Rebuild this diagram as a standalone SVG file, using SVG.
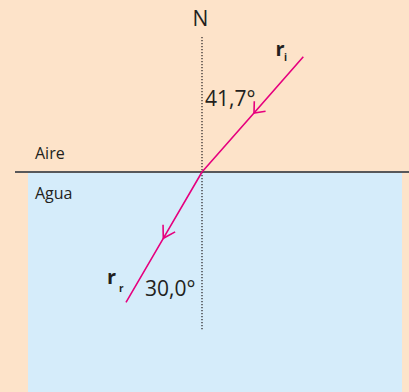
<svg xmlns="http://www.w3.org/2000/svg" width="409" height="392" viewBox="0 0 409 392">
<defs>
<style>
.t{font-family:"Open Sans","Liberation Sans",sans-serif;fill:#231F20}
.big{font-size:21px}
.small{font-size:16px}
.lbl{font-size:20px;font-weight:bold}
.sub{font-size:10px;font-weight:bold}
.ray{fill:none;stroke:#E6007E;stroke-width:1.6}
</style>
<marker id="chev1" markerUnits="userSpaceOnUse" markerWidth="30" markerHeight="30" viewBox="-15 -15 30 30" refX="0" refY="0" orient="auto">
<path d="M-9,-7.5 L0,0 L-9,7.5" fill="none" stroke="#E6007E" stroke-width="1.6"/>
</marker>
<marker id="chev2" markerUnits="userSpaceOnUse" markerWidth="30" markerHeight="30" viewBox="-15 -15 30 30" refX="0" refY="0" orient="auto">
<path d="M-11.5,-7 L0,0 L-11.5,7" fill="none" stroke="#E6007E" stroke-width="1.6"/>
</marker>
</defs>
<rect x="0" y="0" width="409" height="392" fill="#FDE3C9"/>
<g id="water"><rect x="28" y="172" width="374" height="220" fill="#D5ECFA"/></g>
<g id="interface"><line x1="15" y1="172" x2="409" y2="172" stroke="#58585A" stroke-width="2"/></g>
<g id="normal"><line x1="202" y1="37" x2="202" y2="330" stroke="#231F20" stroke-width="1.2" stroke-dasharray="1.2 1.8"/></g>
<g id="connectors">
<path class="ray" d="M303.3,56.7 L254,113 L202,172" marker-mid="url(#chev1)"/>
<path class="ray" d="M202,172 L163.3,238.3 L126,302.3" marker-mid="url(#chev2)"/>
</g>
<g id="labels">
<text class="t big" x="192.5" y="25.5">N</text>
<text class="t big" x="205" y="106">41,7°</text>
<text class="t small" x="35" y="159">Aire</text>
<text class="t small" x="35" y="199">Agua</text>
<text class="t big" x="145" y="296">30,0°</text>
<text class="t lbl" x="275.5" y="55.7">r</text>
<text class="t sub" x="284" y="61">i</text>
<text class="t lbl" x="107" y="284">r</text>
<text class="t sub" x="119" y="291.5">r</text>
</g>
</svg>
